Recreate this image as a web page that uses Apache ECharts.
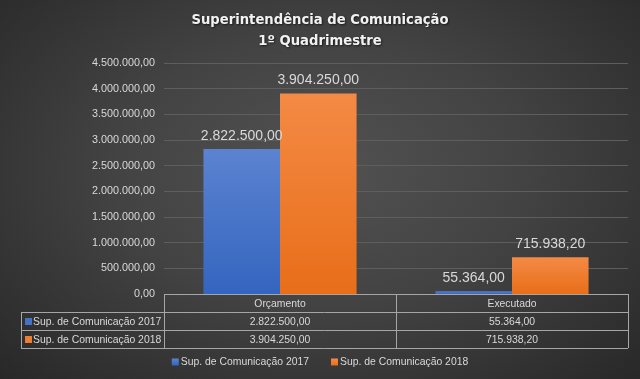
<!DOCTYPE html>
<html>
<head>
<meta charset="utf-8">
<script src="https://cdn.jsdelivr.net/npm/echarts@6/dist/echarts.min.js"></script>
<style>
html,body{margin:0;padding:0;width:640px;height:379px;overflow:hidden;}
#c{width:640px;height:379px;background:radial-gradient(ellipse at 50% 45%, #525252 0%, #434343 45%, #282828 100%);}
</style>
</head>
<body>
<div id="c"></div>
<script>
const titleLines = ['Superintendência de Comunicação', '1º Quadrimestre'];
const categories = ['Orçamento', 'Executado'];
const seriesNames = ['Sup. de Comunicação 2017', 'Sup. de Comunicação 2018'];
const values2017 = [2822500.00, 55364.00];
const values2018 = [3904250.00, 715938.20];
const yTicks = [0, 500000, 1000000, 1500000, 2000000, 2500000, 3000000, 3500000, 4000000, 4500000];

function fmt(v) {
  const neg = v < 0; v = Math.abs(v);
  const fixed = v.toFixed(2);
  let [ip, dp] = fixed.split('.');
  ip = ip.replace(/\B(?=(\d{3})+(?!\d))/g, '.');
  return (neg ? '-' : '') + ip + ',' + dp;
}

const GRID = {left: 164, right: 12, top: 63, bottom: 85};
const textFont = 'Liberation Sans';
const txtColor = '#d9d9d9';
const smallSize = 10.4;
const blueGrad = new echarts.graphic.LinearGradient(0, 0, 0, 1, [{offset: 0, color: '#5b83d0'}, {offset: 1, color: '#3465bf'}]);
const orangeGrad = new echarts.graphic.LinearGradient(0, 0, 0, 1, [{offset: 0, color: '#f48a45'}, {offset: 1, color: '#e86e19'}]);
const seriesColors = ['#4472c4', '#ed7d31'];

const chart = echarts.init(document.getElementById('c'), null, {renderer: 'canvas'});
const option = {
  color: seriesColors,
  backgroundColor: 'transparent',
  animation: false,
  title: {
    text: titleLines.join('\n'),
    left: 'center',
    top: 5,
    textStyle: {
      color: '#f2f2f2', fontFamily: 'DejaVu Sans', fontWeight: 'bold', fontSize: 13.2, lineHeight: 21,
      textShadowColor: 'rgba(0,0,0,0.6)', textShadowBlur: 2, textShadowOffsetX: 1, textShadowOffsetY: 1
    }
  },
  legend: {
    data: seriesNames,
    bottom: 7,
    left: 'center',
    itemWidth: 7, itemHeight: 7, itemGap: 22,
    icon: 'rect',
    textStyle: {color: txtColor, fontFamily: textFont, fontSize: smallSize, padding: [0, 0, 0, -3]}
  },
  grid: GRID,
  xAxis: {
    type: 'category',
    data: categories,
    axisLine: {show: false},
    axisTick: {show: false},
    axisLabel: {show: false}
  },
  yAxis: {
    type: 'value',
    min: yTicks[0], max: yTicks[yTicks.length - 1], interval: yTicks[1] - yTicks[0],
    axisLine: {show: false},
    axisTick: {show: false},
    splitLine: {lineStyle: {color: '#5e5e5e', width: 1}},
    axisLabel: {color: txtColor, fontFamily: textFont, fontSize: 10.8, margin: 9, formatter: v => fmt(v)}
  },
  series: [
    {
      name: seriesNames[0], type: 'bar', data: values2017,
      barGap: '0%', barCategoryGap: '34%',
      itemStyle: {color: blueGrad},
      label: {show: true, position: 'top', distance: 6, color: txtColor, fontFamily: textFont, fontSize: 14, formatter: p => fmt(p.value)}
    },
    {
      name: seriesNames[1], type: 'bar', data: values2018,
      barGap: '0%', barCategoryGap: '34%',
      itemStyle: {color: orangeGrad},
      label: {show: true, position: 'top', distance: 6, color: txtColor, fontFamily: textFont, fontSize: 14, formatter: p => fmt(p.value)}
    }
  ]
};
chart.setOption(option);

// Build data table under the plot from the same arrays
function buildTable() {
  const W = 640;
  const x0 = GRID.left, x1 = W - GRID.right;
  const yTop = chart.convertToPixel({yAxisIndex: 0}, 0);
  const rowH = 18;
  const tableLeft = 21;
  const centers = categories.map(c => chart.convertToPixel({xAxisIndex: 0}, c));
  const band = (x1 - x0) / categories.length;
  const els = [];
  const lineStyle = {stroke: '#a6a6a6', lineWidth: 1};
  const L = (xa, ya, xb, yb) => els.push({type: 'line', silent: true, shape: {x1: xa, y1: ya, x2: xb, y2: yb}, style: lineStyle});
  const rows = [values2017, values2018];
  const yBottom = yTop + rowH * (rows.length + 1);
  L(x0, Math.round(yTop) + 0.5, x1, Math.round(yTop) + 0.5);
  for (let r = 1; r <= rows.length; r++) L(tableLeft, Math.round(yTop + rowH * r) + 0.5, x1, Math.round(yTop + rowH * r) + 0.5);
  L(tableLeft, Math.round(yBottom) + 0.5, x1, Math.round(yBottom) + 0.5);
  L(tableLeft + 0.5, yTop + rowH, tableLeft + 0.5, yBottom);
  for (let c = 0; c <= categories.length; c++) {
    const xv = Math.round(x0 + band * c) + 0.5;
    L(xv, yTop, xv, yBottom);
  }
  const T = (x, y, text, align) => els.push({type: 'text', silent: true, x: x, y: y,
    style: {text: text, fill: txtColor, font: smallSize + 'px "' + textFont + '"', align: align || 'center', verticalAlign: 'middle'}});
  categories.forEach((c, i) => T(centers[i], yTop + rowH / 2 + 1, c));
  rows.forEach((vals, r) => {
    const cy = yTop + rowH * (r + 1) + rowH / 2 + 1;
    els.push({type: 'rect', silent: true, shape: {x: tableLeft + 4, y: cy - 4, width: 7, height: 7}, style: {fill: seriesColors[r]}});
    T(tableLeft + 12, cy, seriesNames[r], 'left');
    vals.forEach((v, i) => T(centers[i], cy, fmt(v)));
  });
  chart.setOption({graphic: {elements: els}});
}
buildTable();
</script>
</body>
</html>
